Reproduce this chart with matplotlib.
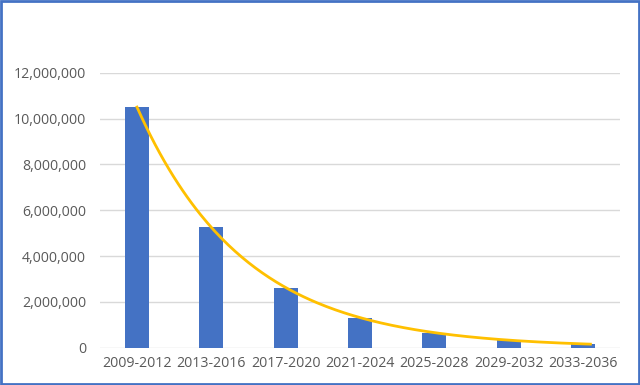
import numpy as np
import matplotlib.pyplot as plt
from matplotlib.patches import Rectangle

periods = ['2009-2012', '2013-2016', '2017-2020', '2021-2024',
           '2025-2028', '2029-2032', '2033-2036']
coins = [10500000, 5250000, 2625000, 1312500, 656250, 328125, 164062]
y_ticks = [0, 2000000, 4000000, 6000000, 8000000, 10000000, 12000000]

plt.rcParams['font.family'] = ['Open Sans', 'DejaVu Sans']

fig = plt.figure(figsize=(6.4, 3.85), dpi=100)
ax = fig.add_axes([0.156, 0.097, 0.813, 0.714])

x = np.arange(len(periods))
ax.bar(x, coins, width=0.32, color='#4472C4', zorder=2)

# exponential trendline, fitted like Excel does
k, b = np.polyfit(x, np.log(coins), 1)
xs = np.linspace(x[0], x[-1] + 0.1, 200)
ax.plot(xs, np.exp(b + k * xs), color='#FFC000', lw=2, zorder=3)

ax.set_xlim(-0.5, len(periods) - 0.5)
ax.set_ylim(0, 12000000)
ax.set_yticks(y_ticks)
ax.set_yticklabels(['{:,}'.format(v) for v in y_ticks])
ax.set_xticks(x)
ax.set_xticklabels(periods)
ax.grid(axis='y', color='#D9D9D9', lw=1, zorder=0)
for s in ax.spines.values():
    s.set_visible(False)
ax.tick_params(length=0, labelsize=10.2, labelcolor='#595959')
ax.tick_params(axis='y', pad=10)
ax.tick_params(axis='x', pad=6)

fig.patches.append(Rectangle((0.002, 0.003), 0.996, 0.994, transform=fig.transFigure,
                             fill=False, edgecolor='#4472C4', lw=2))

fig.savefig('out.png', dpi=100)
